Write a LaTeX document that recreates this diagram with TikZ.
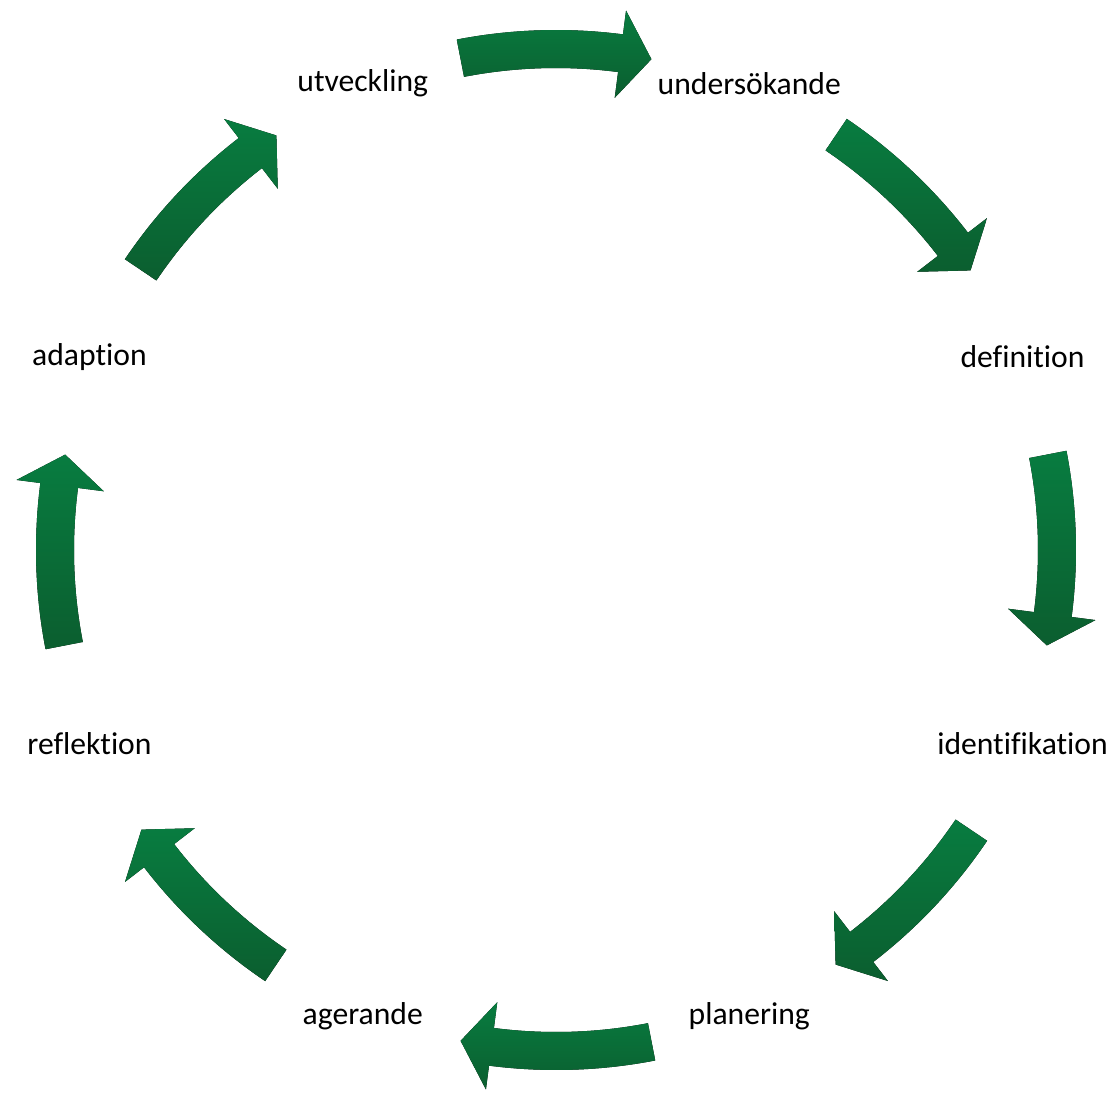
\documentclass[tikz,border=0pt]{standalone}
\usepackage{fontspec}
\setmainfont{Carlito}[Ligatures=NoCommon]
\usepackage{tikz}
\definecolor{arrowlight}{RGB}{8,124,64}
\definecolor{arrowdark}{RGB}{11,94,47}
\tikzstyle{stage} = [font=\fontsize{18}{22}\selectfont, text=black]
\tikzstyle{cyclearrow} = [top color=arrowlight, bottom color=arrowdark, draw=none]

\begin{document}
\begin{tikzpicture}

    \useasboundingbox (-11.12,-10.84) rectangle (11.12,11.0);

    % stages round the cycle
    \node[stage] (utveckling) at (112.5:10.1) {utveckling};
    \node[stage] (undersokande) at (67.5:10.1) {undersökande};
    \node[stage] (definition) at (22.5:10.1) {definition};
    \node[stage] (identifikation) at (-22.5:10.1) {identifikation};
    \node[stage] (planering) at (-67.5:10.1) {planering};
    \node[stage] (agerande) at (-112.5:10.1) {agerande};
    \node[stage] (reflektion) at (-157.5:10.1) {reflektion};
    \node[stage] (adaption) at (157.5:10.1) {adaption};

    % curved block arrows, clockwise
    \foreach \m in {90,45,...,-225} {
        \fill[cyclearrow] ({\m+11}:10.4) arc[start angle=\m+11, end angle=\m-7.4, radius=10.4]
            -- ({\m-7.4}:10.88) -- ({\m-11}:10.0) -- ({\m-7.4}:9.12) -- ({\m-7.4}:9.64)
            arc[start angle=\m-7.4, end angle=\m+11, radius=9.64] -- cycle;
    }
\end{tikzpicture}
\end{document}
